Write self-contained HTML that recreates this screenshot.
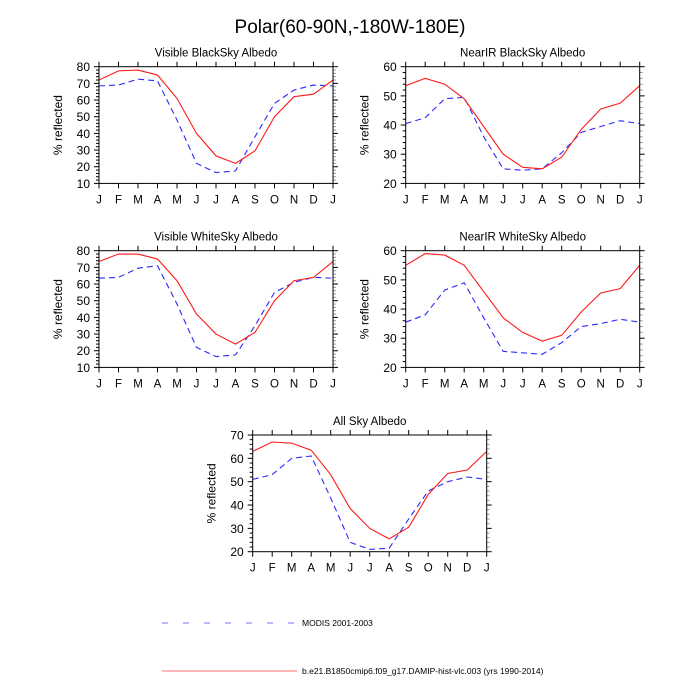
<!DOCTYPE html>
<html><head><meta charset="utf-8"><style>
html,body{margin:0;padding:0;background:#fff;}
svg{display:block;font-family:"Liberation Sans",sans-serif;}
</style></head><body>
<svg id="c" width="700" height="700" viewBox="0 0 700 700">
<text x="350" y="33" text-anchor="middle" font-size="19">Polar(60-90N,-180W-180E)</text>
<g id="panels"></g>
<g>
<line x1="162" y1="623" x2="297" y2="623" stroke="#3333ff" stroke-width="1" stroke-dasharray="6,15" stroke-opacity="0.7"/>
<text x="302" y="626" font-size="8.5">MODIS 2001-2003</text>
<line x1="162" y1="671" x2="297" y2="671" stroke="#ff3333" stroke-width="1" stroke-opacity="0.7"/>
<text x="302" y="674" font-size="8.5">b.e21.B1850cmip6.f09_g17.DAMIP-hist-vlc.003 (yrs 1990-2014)</text>
</g>
</svg>
<script>
const months = ["J","F","M","A","M","J","J","A","S","O","N","D","J"];
const titles = ["Visible BlackSky Albedo","NearIR BlackSky Albedo","Visible WhiteSky Albedo","NearIR WhiteSky Albedo","All Sky Albedo"];
const yMins = [10,20,10,20,20];
const yMaxs = [80,60,80,60,70];
const model1 = [72,77.5,78,75,61,40,26.5,22,29.5,50,62,63.5,72];
const modis1 = [68.5,69,72.5,71.5,48,22,16.5,17.5,38,58,66,69,68.5];
const model2 = [53.5,56,54,49,39.5,30,25.5,25,29,38.5,45.5,47.5,53.5];
const modis2 = [40.5,42.5,49,49.5,36,25,24.5,25,30.5,37.5,39.5,41.5,40.5];
const model3 = [73.5,78,78,75,62,42,30,24,31,50,62,64,73.5];
const modis3 = [63.5,64,69.5,71,48,22,16.5,17.5,35,55,61,64,63.5];
const model4 = [55,59,58.5,55,46,37,32,29,31,39,45.5,47,55];
const modis4 = [35.5,38,46.5,49,37,25.5,25,24.5,28.5,34,35,36.5,35.5];
const model5 = [63,67,66.5,63.5,53,38.5,30,25.5,30.5,44.5,53.5,55,63];
const modis5 = [51,53,60,61,43,24,21,21.5,34,46,50,52,51];
const models = [model1,model2,model3,model4,model5];
const modises = [modis1,modis2,modis3,modis4,modis5];
const boxes = [[99,66.7],[405.7,66.7],[99,250.7],[405.7,250.7],[252.7,435]];
const W = 234, H = 116.7;
const NS = "http://www.w3.org/2000/svg";
const root = document.getElementById("panels");
function mk(tag, attrs, parent){const e=document.createElementNS(NS,tag);for(const k in attrs)e.setAttribute(k,attrs[k]);parent.appendChild(e);return e;}
for(let p=0;p<5;p++){
  const [x0,y0]=boxes[p], lo=yMins[p], hi=yMaxs[p];
  const sx=i=>x0+i*W/12, sy=v=>y0+H-(v-lo)/(hi-lo)*H;
  const g=mk("g",{},root);
  
  
  const t=mk("text",{x:x0+W/2,y:y0-10,"text-anchor":"middle","font-size":"11.5"},g);
  t.textContent=titles[p];
  
  
  for(let i=0;i<13;i++){
    const x=sx(i);
    mk("line",{x1:x,y1:y0+H,x2:x,y2:y0+H+5,stroke:"#000"},g);
    mk("line",{x1:x,y1:y0,x2:x,y2:y0-5,stroke:"#000"},g);
    const l=mk("text",{x:x,y:y0+H+20,"text-anchor":"middle","font-size":"11.5"},g);
    l.textContent=months[i];
    
    
  }
  for(let v=lo;v<=hi+0.01;v+=2){
    const y=sy(v), major=(v%10===0);
    if(major){
      mk("line",{x1:x0,y1:y,x2:x0-5,y2:y,stroke:"#000"},g);
      mk("line",{x1:x0+W,y1:y,x2:x0+W+5,y2:y,stroke:"#000"},g);
      const l=mk("text",{x:x0-9,y:y+4.5,"text-anchor":"end","font-size":"12"},g);
      l.textContent=v;
      
      
    } else {
      mk("line",{x1:x0,y1:y,x2:x0-3,y2:y,stroke:"#000"},g);
      mk("line",{x1:x0+W,y1:y,x2:x0+W+3,y2:y,stroke:"#999"},g);
    }
  }
  const yl=mk("text",{x:0,y:0,"text-anchor":"middle","font-size":"12",transform:`translate(${x0-37},${y0+H/2}) rotate(-90)`},g);
  yl.textContent="% reflected";
  
  
  const modis=mk("polyline",{points:modises[p].map((v,i)=>sx(i)+","+sy(v)).join(" "),fill:"none",stroke:"#2a2aff","stroke-width":"1.1","stroke-dasharray":"6,4"},g);
  
  
  const model=mk("polyline",{points:models[p].map((v,i)=>sx(i)+","+sy(v)).join(" "),fill:"none",stroke:"#ff1a1a","stroke-width":"1.1"},g);
  
  
  mk("rect",{x:x0,y:y0,width:W,height:H,fill:"none",stroke:"#000","stroke-width":"1"},g);
}
</script>
</body></html>
